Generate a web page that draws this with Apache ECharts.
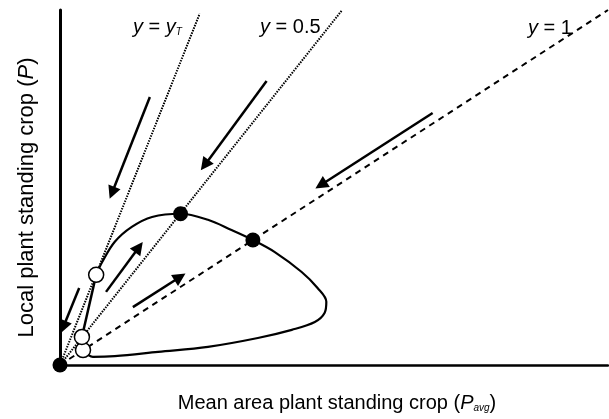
<!DOCTYPE html>
<html>
<head>
<meta charset="utf-8">
<script src="https://cdn.jsdelivr.net/npm/echarts@6/dist/echarts.min.js"></script>
<style>
  html, body { margin: 0; padding: 0; background: #fff; }
  #chart { width: 609px; height: 419px; }
</style>
</head>
<body>
<div id="chart"></div>
<script>
// reference lines through the origin (end points)
const lineOne = [[0, 0], [10, 10]];
const lineHalf = [[0, 0], [5.15, 10]];
const lineYT = [[0, 0], [2.55, 9.9]];

// trajectory loop: from lower open circle round to upper open circle
const loopPoints = [
  [0.42, 0.42], [0.6, 0.23], [1.0, 0.25], [1.79, 0.37], [2.7, 0.51],
  [3.61, 0.76], [4.23, 0.99], [4.65, 1.21], [4.83, 1.47], [4.86, 1.78],
  [4.7, 2.17], [4.41, 2.62], [3.92, 3.18], [3.52, 3.52], [3.13, 3.8],
  [2.7, 4.09], [2.2, 4.26], [1.68, 4.17], [1.31, 3.89], [1.0, 3.47],
  [0.77, 2.9], [0.66, 2.54]
];
const jumpPoints = [[0.66, 2.54], [0.4, 0.79]];

const openPoints = [[0.42, 0.42], [0.4, 0.79], [0.66, 2.54]];
const filledPoints = [[0, 0], [2.2, 4.26], [3.52, 3.52]];

// arrows: [from, to]
const arrows = [
  [[1.64, 7.55], [0.95, 4.85]],
  [[3.77, 8.0], [2.64, 5.63]],
  [[6.8, 7.1], [4.76, 5.07]],
  [[0.35, 2.17], [0.06, 1.07]],
  [[0.84, 2.06], [1.44, 3.32]],
  [[1.33, 1.63], [2.19, 2.48]]
];

const font = "'Liberation Sans', Arial, sans-serif";
const rich = {
  i: { fontStyle: 'italic', fontSize: 20, fontFamily: font, color: '#000' },
  s: { fontStyle: 'italic', fontSize: 10, fontFamily: font, color: '#000', verticalAlign: 'bottom', padding: [8, 0, 0, 0] }
};
const richY = {
  i: { fontStyle: 'italic', fontSize: 22, fontFamily: font, color: '#000' }
};

const chart = echarts.init(document.getElementById('chart'));
chart.setOption({
  animation: false,
  grid: { left: 60, right: 1, top: 10, bottom: 54 },
  xAxis: {
    type: 'value', min: 0, max: 10,
    axisLine: { lineStyle: { color: '#000', width: 2.5 } },
    axisTick: { show: false }, axisLabel: { show: false }, splitLine: { show: false },
    name: 'Mean area plant standing crop ({i|P}{s|avg})',
    nameLocation: 'middle', nameGap: 28,
    nameTextStyle: { fontSize: 20, fontFamily: font, color: '#000', rich: rich, padding: [0, 0, 0, 6] }
  },
  yAxis: {
    type: 'value', min: 0, max: 10,
    axisLine: { lineStyle: { color: '#000', width: 3 } },
    axisTick: { show: false }, axisLabel: { show: false }, splitLine: { show: false },
    name: 'Local plant standing crop ({i|P})',
    nameLocation: 'middle', nameGap: 22,
    nameTextStyle: { fontSize: 22, fontFamily: font, color: '#000', rich: richY, padding: [0, 20, 0, 0] }
  },
  series: [
    {
      type: 'line', data: lineOne, showSymbol: false, symbol: 'none', z: 2,
      lineStyle: { color: '#000', width: 2, type: [6, 5] }
    },
    {
      type: 'line', data: lineHalf, showSymbol: false, symbol: 'none', z: 2,
      lineStyle: { color: '#000', width: 2, type: [1.5, 1.2] }
    },
    {
      type: 'line', data: lineYT, showSymbol: false, symbol: 'none', z: 2,
      lineStyle: { color: '#000', width: 2, type: [1.5, 1.2] }
    },
    {
      type: 'line', data: loopPoints, showSymbol: false, symbol: 'none', smooth: 0.35, z: 3,
      lineStyle: { color: '#000', width: 2.2 }
    },
    {
      type: 'line', data: jumpPoints, showSymbol: false, symbol: 'none', z: 3,
      lineStyle: { color: '#000', width: 2.5 }
    },
    {
      type: 'lines', coordinateSystem: 'cartesian2d', z: 4,
      data: arrows.map(a => ({ coords: a })),
      symbol: ['none', 'triangle'], symbolSize: 13,
      lineStyle: { color: '#000', width: 2.5, opacity: 1 }
    },
    {
      type: 'scatter', data: openPoints, symbolSize: 15, clip: false, z: 10,
      itemStyle: { color: '#fff', borderColor: '#000', borderWidth: 1.5, opacity: 1 }
    },
    {
      type: 'scatter', data: filledPoints, symbolSize: 15, clip: false, z: 10,
      itemStyle: { color: '#000', opacity: 1 }
    }
  ],
  graphic: [
    { type: 'text', left: 133, top: 17, style: { text: '{i|y} = {i|y}{s|T}', rich: rich, font: '20px ' + font, fill: '#000' } },
    { type: 'text', left: 260, top: 17, style: { text: '{i|y} = 0.5', rich: rich, font: '20px ' + font, fill: '#000' } },
    { type: 'text', left: 528, top: 18, style: { text: '{i|y} = 1', rich: rich, font: '20px ' + font, fill: '#000' } }
  ]
});
</script>
</body>
</html>
